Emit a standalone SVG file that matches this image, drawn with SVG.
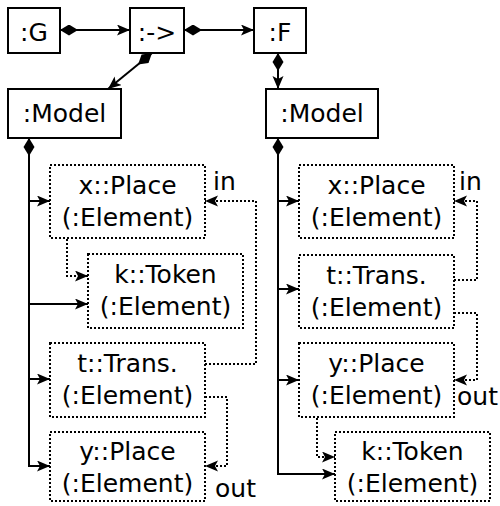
<svg xmlns="http://www.w3.org/2000/svg" width="500" height="506" viewBox="0 0 500 506">
<defs>
<style>
text{font-family:"DejaVu Sans",Verdana,sans-serif;font-size:25px;fill:#000;text-anchor:middle}
.lbl{text-anchor:start}
.box{fill:#fff;stroke:#000;stroke-width:2}
.dbox{fill:#fff;stroke:#000;stroke-width:2;stroke-dasharray:2 2}
.c{fill:none;stroke:#000;stroke-width:2}
.d{fill:none;stroke:#000;stroke-width:2;stroke-dasharray:2 2}
</style>
<marker id="arr" markerUnits="userSpaceOnUse" markerWidth="15" markerHeight="12" refX="13" refY="5.5" orient="auto" viewBox="0 0 15 12">
<path d="M0,0 L13,5.5 L0,11 L3,5.5 z" fill="#000"/>
</marker>
<marker id="dia" markerUnits="userSpaceOnUse" markerWidth="20" markerHeight="12" refX="0" refY="5.5" orient="auto" viewBox="0 0 20 12">
<path d="M0,5.5 L9,0 L18,5.5 L9,11 z" fill="#000"/>
</marker>
</defs>
<g id="connectors">
<path class="c" d="M60,30 H130" marker-start="url(#dia)" marker-end="url(#arr)"/>
<path class="c" d="M184,30 H254" marker-start="url(#dia)" marker-end="url(#arr)"/>
<path class="c" d="M152,53 L108,89" marker-start="url(#dia)" marker-end="url(#arr)"/>
<path class="c" d="M278,53 V89" marker-start="url(#dia)" marker-end="url(#arr)"/>
<path class="c" d="M29,138 V201 H50" marker-start="url(#dia)" marker-end="url(#arr)"/>
<path class="c" d="M29,150 V304 H88" marker-end="url(#arr)"/>
<path class="c" d="M29,150 V379 H50" marker-end="url(#arr)"/>
<path class="c" d="M29,150 V466 H50" marker-end="url(#arr)"/>
<path class="c" d="M278,138 V201 H299" marker-start="url(#dia)" marker-end="url(#arr)"/>
<path class="c" d="M278,150 V289 H299" marker-end="url(#arr)"/>
<path class="c" d="M278,150 V380 H299" marker-end="url(#arr)"/>
<path class="c" d="M278,150 V474 H335" marker-end="url(#arr)"/>
<path class="d" d="M67,239 V276 H88" marker-end="url(#arr)"/>
<path class="d" d="M205,364 H256 V201 H205" marker-end="url(#arr)"/>
<path class="d" d="M205,397 H227 V466 H205" marker-end="url(#arr)"/>
<path class="d" d="M454,280 H477 V201 H454" marker-end="url(#arr)"/>
<path class="d" d="M454,313 H477 V380 H454" marker-end="url(#arr)"/>
<path class="d" d="M317,418 V457 H335" marker-end="url(#arr)"/>
<text class="lbl" x="213" y="190">in</text>
<text class="lbl" x="215" y="497">out</text>
<text class="lbl" x="459" y="190">in</text>
<text class="lbl" x="457" y="405">out</text>
</g>
<g id="G"><rect class="box" x="8" y="8" width="52" height="45"/><text x="34" y="41">:G</text></g>
<g id="Arrow"><rect class="box" x="130" y="8" width="54" height="45"/><text x="157" y="41">:-&gt;</text></g>
<g id="F"><rect class="box" x="254" y="8" width="52" height="45"/><text x="280" y="41">:F</text></g>
<g id="ModelL"><rect class="box" x="8" y="89" width="113" height="49"/><text x="64.5" y="122">:Model</text></g>
<g id="ModelR"><rect class="box" x="266" y="89" width="112" height="49"/><text x="322" y="122">:Model</text></g>
<g id="xPlaceL"><rect class="dbox" x="50" y="165" width="155" height="73"/><text x="127.5" y="194">x::Place</text><text x="127.5" y="226">(:Element)</text></g>
<g id="kTokenL"><rect class="dbox" x="88" y="254" width="155" height="74"/><text x="165.5" y="283">k::Token</text><text x="165.5" y="315">(:Element)</text></g>
<g id="tTransL"><rect class="dbox" x="50" y="343" width="155" height="74"/><text x="127.5" y="372">t::Trans.</text><text x="127.5" y="404">(:Element)</text></g>
<g id="yPlaceL"><rect class="dbox" x="50" y="432" width="155" height="69"/><text x="127.5" y="460">y::Place</text><text x="127.5" y="492">(:Element)</text></g>
<g id="xPlaceR"><rect class="dbox" x="299" y="165" width="155" height="73"/><text x="376.5" y="194">x::Place</text><text x="376.5" y="226">(:Element)</text></g>
<g id="tTransR"><rect class="dbox" x="299" y="255" width="155" height="73"/><text x="376.5" y="284">t::Trans.</text><text x="376.5" y="316">(:Element)</text></g>
<g id="yPlaceR"><rect class="dbox" x="299" y="343" width="155" height="74"/><text x="376.5" y="372">y::Place</text><text x="376.5" y="404">(:Element)</text></g>
<g id="kTokenR"><rect class="dbox" x="335" y="432" width="155" height="69"/><text x="412.5" y="460">k::Token</text><text x="412.5" y="492">(:Element)</text></g>
</svg>
